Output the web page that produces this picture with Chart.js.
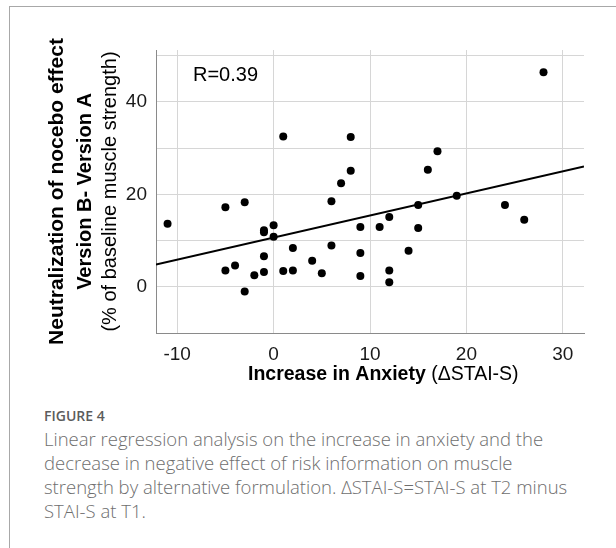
<!DOCTYPE html>
<html>
<head>
<meta charset="utf-8">
<script src="https://cdn.jsdelivr.net/npm/chart.js@4"></script>
<style>
  body { margin: 0; background: #fff; }
  #frame { position: absolute; left: 9px; top: 6px; width: 607px; height: 542px;
           border-left: 1px solid #a8a8a8; border-top: 1px solid #a8a8a8; }
  #plot { position: absolute; left: 0; top: 0; width: 616px; height: 400px; }
  #caption { position: absolute; left: 44px; top: 405px; color: #6e6e6e;
             font-family: "Open Sans", sans-serif; white-space: nowrap; }
  #caption .fig { font-weight: 600; font-size: 14px; color: #5c5c5c; line-height: 22px; }
  #caption .txt { font-weight: 300; font-size: 18.5px; line-height: 24px; }
</style>
</head>
<body>
<div id="frame"></div>
<div id="plot"><canvas id="scatterChart" width="616" height="400"></canvas></div>
<div id="caption">
  <div class="fig">FIGURE 4</div>
  <div class="txt">Linear regression analysis on the increase in anxiety and the<br>decrease in negative effect of risk information on muscle<br>strength by alternative formulation. ΔSTAI-S=STAI-S at T2 minus<br>STAI-S at T1.</div>
</div>
<script>
// increase in anxiety (ΔSTAI-S) of each participant
const anxiety = [-11, -5, -5, -4, -3, -3, -2, -1, -1, -1, -1, 0, 0, 1, 1, 2, 2, 4, 5, 6,
                 6, 7, 8, 8, 9, 9, 9, 11, 12, 12, 12, 14, 15, 15, 16, 17, 19, 24, 26, 28];
// neutralization of nocebo effect (% of baseline muscle strength)
const neutralization = [13.6, 17.2, 3.5, 4.6, 18.3, -1.0, 2.5, 12.2, 11.8, 6.6, 3.2, 13.3, 10.8, 32.5, 3.4, 8.4, 3.5, 5.6, 2.9, 18.5,
                        8.9, 22.4, 32.4, 25.1, 12.9, 7.3, 2.3, 12.9, 15.1, 3.5, 1.0, 7.8, 17.7, 12.7, 25.3, 29.3, 19.7, 17.7, 14.5, 46.4];
// regression line end points
const fitX = [-12.2, 32.2];
const fitY = [4.8, 26.0];

const xTicks = [-10, 0, 10, 20, 30];
const yGrid = [-10, 0, 10, 20, 30, 40, 50];
const yLabels = [0, 20, 40];
const rText = 'R=0.39';

const FONT = '"Liberation Sans", Arial, sans-serif';

// axis titles and R value
const titlePlugin = {
    id: 'titles',
    afterDraw(chart) {
        const ctx = chart.ctx;
        const area = chart.chartArea;
        const cy = (area.top + area.bottom) / 2;
        ctx.save();
        ctx.fillStyle = '#000';
        ctx.textAlign = 'center';
        ctx.textBaseline = 'middle';

        const yLines = [
            ['Neutralization of nocebo effect', 'bold 21px ' + FONT, 57],
            ['Version B- Version A', 'bold 20px ' + FONT, 85],
            ['(% of baseline muscle strength)', '20px ' + FONT, 110],
        ];
        yLines.forEach(function (l) {
            ctx.save();
            ctx.translate(l[2], cy);
            ctx.rotate(-Math.PI / 2);
            ctx.font = l[1];
            ctx.fillText(l[0], 0, 0);
            ctx.restore();
        });

        // x title: bold part + normal part
        ctx.textAlign = 'left';
        let x = 248;
        const y = 375;
        ctx.font = 'bold 19.5px ' + FONT;
        ctx.fillText('Increase in Anxiety', x, y);
        x += ctx.measureText('Increase in Anxiety').width;
        ctx.font = '19.5px ' + FONT;
        ctx.fillText(' (ΔSTAI-S)', x, y);

        ctx.font = '20px ' + FONT;
        ctx.fillText(rText, area.left + 37, 75);
        ctx.restore();
    }
};

function InitScatterChart() {
    const ctx = document.getElementById('scatterChart').getContext('2d');
    new Chart(ctx, {
        data: {
            datasets: [
                {
                    type: 'scatter',
                    data: anxiety.map((x, i) => ({x: x, y: neutralization[i]})),
                    backgroundColor: '#000',
                    borderWidth: 0,
                    pointRadius: 4,
                },
                {
                    type: 'line',
                    data: fitX.map((x, i) => ({x: x, y: fitY[i]})),
                    borderColor: '#000',
                    borderWidth: 2,
                    pointRadius: 0,
                    fill: false,
                },
            ],
        },
        options: {
            responsive: false,
            animation: false,
            layout: {padding: {top: 50, right: 32, left: 0, bottom: 0}},
            plugins: {legend: {display: false}, tooltip: {enabled: false}},
            scales: {
                x: {
                    type: 'linear',
                    min: -12.2,
                    max: 32.2,
                    afterBuildTicks: (scale) => { scale.ticks = xTicks.map(v => ({value: v})); },
                    afterFit: (scale) => { scale.height = 67; },
                    grid: {color: '#d6d6d6', drawTicks: false},
                    border: {color: '#8a8a8a'},
                    ticks: {color: '#1a1a1a', padding: 10, font: {family: FONT, size: 19}},
                },
                y: {
                    type: 'linear',
                    min: -10,
                    max: 51.2,
                    afterBuildTicks: (scale) => { scale.ticks = yGrid.map(v => ({value: v})); },
                    afterFit: (scale) => { scale.width = 156; },
                    grid: {color: '#d6d6d6', drawTicks: false},
                    border: {color: '#8a8a8a'},
                    ticks: {
                        color: '#1a1a1a', padding: 9, font: {family: FONT, size: 19},
                        callback: (v) => yLabels.includes(v) ? v : '',
                    },
                },
            },
        },
        plugins: [titlePlugin],
    });
}

InitScatterChart();
</script>
</body>
</html>
